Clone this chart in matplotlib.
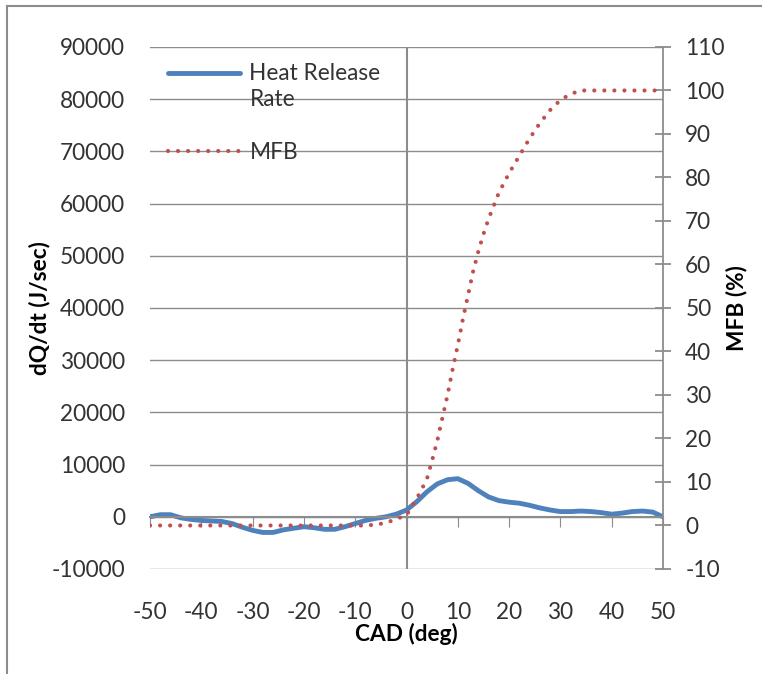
import matplotlib.pyplot as plt
from matplotlib.lines import Line2D

plt.rcParams['font.family'] = ['Lato', 'DejaVu Sans']
plt.rcParams['axes.unicode_minus'] = False

# Datos
cad_hrr = list(range(-50, 51, 2))
hrr = [0, 400, 400, -200, -500, -700, -800, -900, -1300, -2000,
       -2600, -3000, -3000, -2500, -2200, -1900, -2100, -2400, -2400, -1900,
       -1300, -700, -300, 0, 500, 1300, 2900, 4800, 6300, 7100,
       7300, 6400, 5000, 3800, 3100, 2800, 2600, 2200, 1700, 1300,
       1000, 1000, 1100, 1000, 800, 500, 700, 1000, 1100, 900, 0]

cad_mfb = [-50, -40, -30, -20, -10, -8, -6, -4, -2, 0, 1, 2, 3, 4, 5, 6, 7, 8, 9,
           10, 11, 12, 13, 14, 15, 16, 17, 18, 20, 22, 24, 26, 28, 30, 32, 34,
           40, 50]
mfb = [0, 0, 0, 0, 0, 0, 0.2, 0.6, 1.5, 2.4, 4.3, 6.2, 8.4, 10.8, 15, 19.5, 24.8,
       30, 36, 41.5, 47.5, 53, 58.5, 63, 67, 70.5, 73.5, 76.5, 81, 85, 89, 92.5,
       95.5, 97.8, 99.2, 100, 100, 100]

gris = '#8c8c8c'
texto = '#333333'
fs = 16.3

fig = plt.figure(figsize=(7.62, 6.74), dpi=100)
ax = fig.add_axes([0.1969, 0.1558, 0.6732, 0.7745])
ax2 = ax.twinx()

l1, = ax.plot(cad_hrr, hrr, color='#4F81BD', lw=3.5, solid_capstyle='round',
              label='Heat Release\nRate')
l2, = ax2.plot(cad_mfb, mfb, color='#C0504D', lw=3, linestyle=(0, (0.01, 2.4)),
               dash_capstyle='round', label='MFB')

ax.set_xlim(-50, 50)
ax.set_ylim(-10000, 90000)
ax.set_yticks(range(-10000, 90001, 10000))
ax.set_xticks(range(-50, 51, 10))
ax2.set_ylim(-10, 110)
ax2.set_yticks(range(-10, 111, 10))

# rejilla horizontal
ax.grid(axis='y', color=gris, lw=1)
ax.set_axisbelow(True)
ax.axvline(0, color=gris, lw=1.5, zorder=1)

for s in ['top', 'right', 'left']:
    ax.spines[s].set_visible(False)
ax.spines['bottom'].set_position(('data', 0))
ax.spines['bottom'].set_color(gris)
ax.spines['bottom'].set_linewidth(1.5)
ax.tick_params(axis='x', direction='out', length=7, color=gris, labelbottom=False)
ax.tick_params(axis='y', length=0, pad=18, labelsize=fs, labelcolor=texto)

for s in ['top', 'left', 'bottom']:
    ax2.spines[s].set_visible(False)
ax2.spines['right'].set_color(gris)
ax2.spines['right'].set_linewidth(1.3)
ax2.tick_params(axis='y', direction='inout', length=12, color=gris, width=1.3,
                pad=10, labelsize=fs, labelcolor=texto)

# etiquetas del eje x en la parte baja
sec = ax.secondary_xaxis('bottom')
sec.spines['bottom'].set_visible(False)
sec.set_xticks(range(-50, 51, 10))
sec.tick_params(length=0, pad=24, labelsize=fs, labelcolor=texto)
sec.set_xlabel('CAD (deg)', fontsize=fs, fontweight='bold', labelpad=0)

ax.set_ylabel('dQ/dt (J/sec)', fontsize=fs, fontweight='bold', labelpad=1)
ax2.set_ylabel('MFB (%)', fontsize=fs, fontweight='bold', labelpad=1)

leg = ax2.legend(handles=[l1, l2], loc='upper left', bbox_to_anchor=(0.004, 1.0),
                 frameon=False, fontsize=fs, handlelength=3.2, handletextpad=0.4,
                 labelspacing=1.4, labelcolor=texto, borderaxespad=0.3)
leg.get_texts()[0].set_linespacing(1.3)
# la muestra de línea va alineada con la primera línea del texto
h0 = leg.legend_handles[0]
h0.set_ydata([y + 10 for y in h0.get_ydata()])

# borde del gráfico
fig.add_artist(Line2D([0.0092, 0.0092], [0, 0.991], color=gris, lw=1.5,
                      transform=fig.transFigure))
fig.add_artist(Line2D([0.0092, 1], [0.991, 0.991], color=gris, lw=1.5,
                      transform=fig.transFigure))

fig.savefig('out.png', dpi=100)
